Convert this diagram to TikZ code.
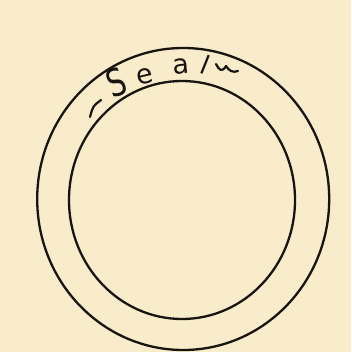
\documentclass[tikz,border=0pt]{standalone}
\usepackage{fontspec}
\newfontfamily\handfont{DejaVu Sans}
\usetikzlibrary{calc}
\definecolor{paper}{RGB}{249,236,203}
\definecolor{ink}{RGB}{24,20,16}
\tikzset{
  ring/.style={draw=ink, line width=2.3pt},
  letter/.style={text=ink, font=\handfont\fontsize{27}{27}\selectfont, inner sep=0pt},
  stroke/.style={draw=ink, line width=2.2pt, line cap=round, line join=round}
}
\begin{document}
\begin{tikzpicture}[x=1pt,y=-1pt]
\useasboundingbox (0,0) rectangle (351,352);
\fill[paper] (0,0) rectangle (351,352);
\coordinate (c) at (183.2,199);
\draw[ring] (c) ellipse [x radius=146pt, y radius=151pt];
\draw[ring] (182,200) ellipse [x radius=113pt, y radius=119pt];
% text
\node[letter, font=\handfont\fontsize{38}{38}\selectfont, rotate=20, xscale=0.76] (s) at (116,82) {S};
\node[letter, rotate=13] (e) at (145,76) {e};
\node[letter, rotate=5] (a) at (181,66) {a};
\node[letter, font=\handfont\fontsize{26}{26}\selectfont, rotate=-22] (l) at (206,64.5) {l};
\coordinate (d1) at (90,117);
\coordinate (d2) at (101,100);
\draw[stroke] (d1) .. controls (93,106) .. (d2);
\coordinate (t1) at (216,64);
\coordinate (t2) at (238,71);
\draw[stroke] (t1) .. controls (219,70) and (222,73) .. (226,66) .. controls (229,71) and (233,73) .. (t2);
\end{tikzpicture}
\end{document}
